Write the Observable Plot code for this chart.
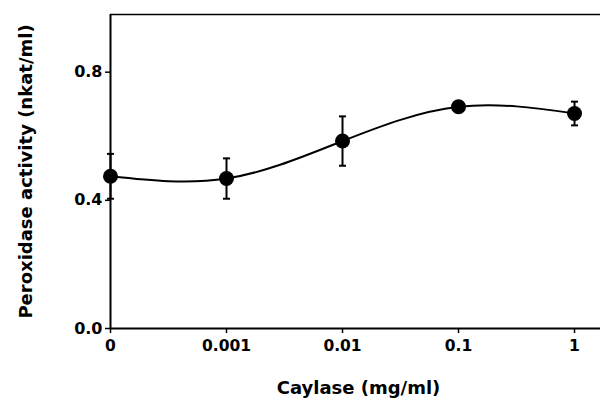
<!DOCTYPE html>
<html>
<head>
<meta charset="utf-8">
<script src="https://cdn.jsdelivr.net/npm/d3@7"></script>
<script src="https://cdn.jsdelivr.net/npm/@observablehq/plot@0.6"></script>
<style>
  html, body { margin: 0; padding: 0; background: #fff; }
</style>
</head>
<body>
<div id="chart"></div>
<script>
// Caylase concentration (mg/ml), categorical positions on a log-like axis
const doseLabels = ["0", "0.001", "0.01", "0.1", "1"];
// Peroxidase activity (nkat/ml)
const activity = [0.475, 0.468, 0.585, 0.692, 0.671];
// Error (+/-)
const errors = [0.07, 0.063, 0.077, 0.008, 0.037];
const yTicks = [0, 0.4, 0.8];

const data = doseLabels.map((d, i) => ({
  i, label: d, y: activity[i], lo: activity[i] - errors[i], hi: activity[i] + errors[i]
}));

const capSymbol = {
  draw(context, size) {
    const r = Math.sqrt(size / Math.PI);
    context.moveTo(-r, 0);
    context.lineTo(r, 0);
  }
};

const chart = Plot.plot({
  width: 600,
  height: 400,
  marginLeft: 110,
  marginRight: 0,
  marginTop: 14,
  marginBottom: 72,
  style: { fontFamily: "DejaVu Sans", fontSize: "15px", color: "#000", background: "#fff" },
  x: { domain: [0, 4.224] },
  y: { domain: [0, 0.98] },
  marks: [
    Plot.ruleY([0.98], { stroke: "#000", strokeWidth: 1.5 }),
    Plot.ruleY([0], { stroke: "#000", strokeWidth: 2 }),
    Plot.ruleX([0], { stroke: "#000", strokeWidth: 2 }),
    Plot.axisX({
      ticks: data.map(d => d.i),
      tickFormat: i => doseLabels[i],
      tickSize: 5,
      tickPadding: 6,
      fontWeight: "bold",
      fontSize: 15.5,
      strokeWidth: 1.5,
      label: null
    }),
    Plot.axisY({
      ticks: yTicks,
      tickFormat: d3.format(".1f"),
      tickSize: 5,
      tickPadding: 3,
      fontWeight: "bold",
      fontSize: 16,
      strokeWidth: 1.5,
      label: null
    }),
    Plot.line(data, { x: "i", y: "y", curve: "natural", stroke: "#000", strokeWidth: 2 }),
    Plot.ruleX(data, { x: "i", y1: "lo", y2: "hi", stroke: "#000", strokeWidth: 2 }),
    Plot.dot(data, { x: "i", y: "lo", symbol: capSymbol, r: 3.5, stroke: "#000", strokeWidth: 2, fill: "none" }),
    Plot.dot(data, { x: "i", y: "hi", symbol: capSymbol, r: 3.5, stroke: "#000", strokeWidth: 2, fill: "none" }),
    Plot.dot(data, { x: "i", y: "y", r: 7.5, fill: "#000", stroke: "none" }),
    Plot.text(["Caylase (mg/ml)"], { frameAnchor: "bottom", dy: 60, dx: 3, fontSize: 18, fontWeight: "bold", textAnchor: "middle", lineAnchor: "middle", fill: "#000" }),
    Plot.text(["Peroxidase activity (nkat/ml)"], { frameAnchor: "left", dx: -84, rotate: -90, fontSize: 18, fontWeight: "bold", textAnchor: "middle", lineAnchor: "middle", fill: "#000" })
  ]
});

document.getElementById("chart").appendChild(chart);
</script>
</body>
</html>
